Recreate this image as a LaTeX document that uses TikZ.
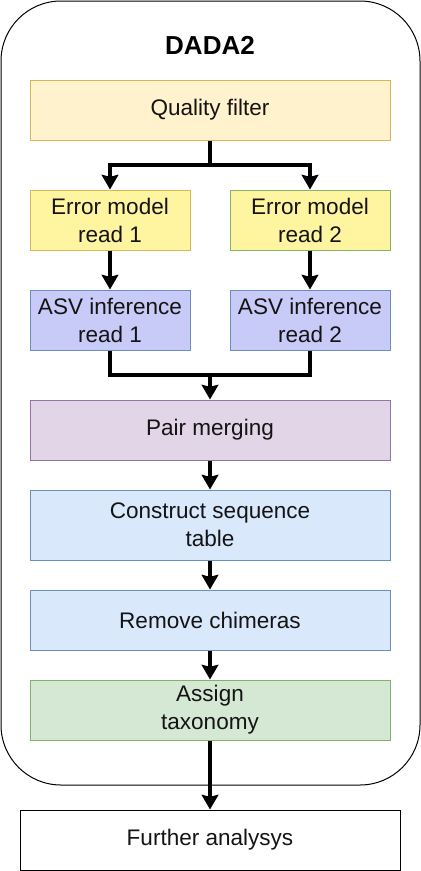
\documentclass[tikz,border=0pt]{standalone}
\usepackage{fontspec}
\setmainfont{Liberation Sans}
\usetikzlibrary{arrows.meta}
\definecolor{qfill}{HTML}{FFF2CC}
\definecolor{qdraw}{HTML}{D6B656}
\definecolor{efill}{HTML}{FFF4A0}
\definecolor{gdraw}{HTML}{82B366}
\definecolor{afill}{HTML}{C8CAF8}
\definecolor{bdraw}{HTML}{6C8EBF}
\definecolor{pfill}{HTML}{E1D5E7}
\definecolor{pdraw}{HTML}{9673A6}
\definecolor{bfill}{HTML}{DAE8FC}
\definecolor{gfill}{HTML}{D5E8D4}
\tikzset{
  box/.style={draw, line width=0.75pt, inner sep=0pt, align=center,
    font=\fontsize{16.9}{21}\selectfont, text=black!92},
  arr/.style={line width=2.8pt, -{Stealth[length=11pt,width=12.5pt,inset=1.5pt]}},
  ln/.style={line width=2.8pt},
}
\begin{document}
\begin{tikzpicture}[x=0.75pt,y=-0.75pt]
\useasboundingbox (0,0) rectangle (421,871);
\node[draw, line width=0.75pt, rounded corners=45pt, minimum width=419*0.75pt, minimum height=784*0.75pt, inner sep=0pt] (outer) at (210.5,393) {};
\node[font=\bfseries\fontsize{19.5}{23}\selectfont] (title) at (210,45) {DADA2};
\node[box, fill=qfill, draw=qdraw, minimum width=360*0.75pt, minimum height=60*0.75pt] (qf) at (210,110) {Quality filter};
\node[box, fill=efill, draw=qdraw, minimum width=160*0.75pt, minimum height=60*0.75pt] (e1) at (110,220) {Error model\\read 1};
\node[box, fill=efill, draw=gdraw, minimum width=160*0.75pt, minimum height=60*0.75pt] (e2) at (310,220) {Error model\\read 2};
\node[box, fill=afill, draw=bdraw, minimum width=160*0.75pt, minimum height=60*0.75pt] (a1) at (110,320) {ASV inference\\read 1};
\node[box, fill=afill, draw=bdraw, minimum width=160*0.75pt, minimum height=60*0.75pt] (a2) at (310,320) {ASV inference\\read 2};
\node[box, fill=pfill, draw=pdraw, minimum width=360*0.75pt, minimum height=60*0.75pt] (pm) at (210,430) {Pair merging};
\node[box, fill=bfill, draw=bdraw, minimum width=360*0.75pt, minimum height=70*0.75pt] (cs) at (210,525) {Construct sequence\\table};
\node[box, fill=bfill, draw=bdraw, minimum width=360*0.75pt, minimum height=60*0.75pt] (rc) at (210,620) {Remove chimeras};
\node[box, fill=gfill, draw=gdraw, minimum width=360*0.75pt, minimum height=60*0.75pt] (at) at (210,710) {Assign\\taxonomy};
\node[box, fill=white, draw=black, minimum width=380*0.75pt, minimum height=60*0.75pt] (fa) at (210,840) {Further analysys};
\coordinate (split) at (210,165);
\coordinate (join) at (210,375);
\draw[ln] (qf.south) -- (split);
\draw[arr] (split) -| (e1.north);
\draw[arr] (split) -| (e2.north);
\draw[arr] (e1) -- (a1);
\draw[arr] (e2) -- (a2);
\draw[ln] (a1.south) |- (join);
\draw[ln] (a2.south) |- (join);
\draw[arr] (join) -- (pm.north);
\draw[arr] (pm) -- (cs);
\draw[arr] (cs) -- (rc);
\draw[arr] (rc) -- (at);
\draw[arr] (at) -- (fa);
\end{tikzpicture}
\end{document}
